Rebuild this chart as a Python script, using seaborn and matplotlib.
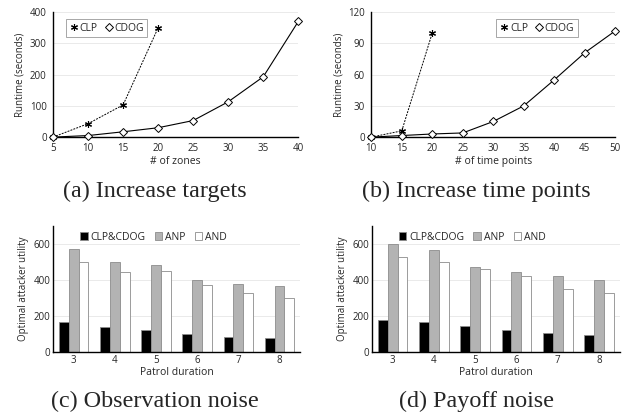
import numpy as np
import pandas as pd
import seaborn as sns
import matplotlib.pyplot as plt
from matplotlib.ticker import FixedLocator

# (a) 目標数を増やす
zones = [5, 10, 15, 20, 25, 30, 35, 40]
clp_zones = [0, 43, 103, 350]
cdog_zones = [0, 5, 17, 30, 53, 113, 193, 370]

# (b) 時点数を増やす
time_points = [10, 15, 20, 25, 30, 35, 40, 45, 50]
clp_time = [0, 6, 100]
cdog_time = [0, 1.5, 3, 4, 15, 30, 55, 81, 102]

# (c)(d) 巡回時間ごとの攻撃者効用
durations = ['3', '4', '5', '6', '7', '8']
methods = ['CLP&CDOG', 'ANP', 'AND']
obs_clp = [165, 138, 120, 98, 85, 75]
obs_anp = [575, 502, 482, 400, 378, 367]
obs_and = [500, 445, 450, 375, 328, 300]
pay_clp = [178, 165, 147, 120, 105, 97]
pay_anp = [600, 565, 475, 447, 420, 402]
pay_and = [530, 502, 460, 420, 352, 330]

captions = ['(a) Increase targets', '(b) Increase time points',
            '(c) Observation noise', '(d) Payoff noise']

sns.set_style('white')
plt.rcParams['font.family'] = ['Open Sans', 'DejaVu Sans']

fig = plt.figure(figsize=(6.24, 4.18), dpi=100)


def style_axes(ax):
    for s in ['top', 'right']:
        ax.spines[s].set_visible(False)
    for s in ['left', 'bottom']:
        ax.spines[s].set_color('black')
        ax.spines[s].set_linewidth(1.0)
    ax.yaxis.grid(True, color='#e6e6e6', linewidth=0.6)
    ax.set_axisbelow(True)
    ax.tick_params(labelsize=7, length=2.5, width=0.6, pad=2)


def line_panel(rect, xs, clp, cdog, xlabel, ylim, yticks, legend_xy):
    ax = fig.add_axes(rect)
    style_axes(ax)
    df_clp = pd.DataFrame({'x': xs[:len(clp)], 'y': clp})
    df_cdog = pd.DataFrame({'x': xs, 'y': cdog})
    sns.lineplot(data=df_clp, x='x', y='y', ax=ax, color='black', linewidth=0.7,
                 linestyle=(0, (2, 1.2)), marker=(6, 2, 0), markersize=5,
                 markeredgewidth=0.8, markeredgecolor='black', label='CLP',
                 clip_on=False, zorder=3)
    sns.lineplot(data=df_cdog, x='x', y='y', ax=ax, color='black', linewidth=0.8,
                 marker='D', markersize=4, markerfacecolor='white',
                 markeredgecolor='black', markeredgewidth=0.7, label='CDOG',
                 clip_on=False, zorder=3)
    ax.set_xlim(xs[0], xs[-1])
    ax.set_xticks(xs)
    ax.set_ylim(*ylim)
    ax.set_yticks(yticks)
    ax.set_xlabel(xlabel, fontsize=7.5, labelpad=1)
    ax.set_ylabel('Runtime (seconds)', fontsize=7, labelpad=3)
    leg = ax.legend(loc='upper left', bbox_to_anchor=legend_xy, ncol=2, fontsize=7.5,
                    fancybox=False, handlelength=0.9, handletextpad=0.1,
                    columnspacing=0.6, borderpad=0.35, framealpha=1)
    leg.get_frame().set_edgecolor('#999999')
    leg.get_frame().set_linewidth(0.6)
    for h in leg.get_lines():
        h.set_linestyle('None')
    return ax


def bar_panel(rect, clp, anp, andv):
    ax = fig.add_axes(rect)
    style_axes(ax)
    df = pd.DataFrame({
        'duration': durations * 3,
        'method': [m for m in methods for _ in durations],
        'value': clp + anp + andv,
    })
    sns.barplot(data=df, x='duration', y='value', hue='method', ax=ax,
                palette=['black', '#b3b3b3', 'white'], width=0.72,
                edgecolor='#8c8c8c', linewidth=0.6, saturation=1)
    ax.set_xlim(-0.5, 5.5)
    ax.set_ylim(0, 700)
    ax.set_yticks([0, 200, 400, 600])
    ax.tick_params(axis='x', length=0)
    ax.xaxis.set_minor_locator(FixedLocator(np.arange(0.5, 5, 1.0)))
    ax.tick_params(axis='x', which='minor', length=3, width=0.6, color='#888888')
    ax.tick_params(axis='y', length=0)
    ax.set_xlabel('Patrol duration', fontsize=7.5, labelpad=1)
    ax.set_ylabel('Optimal attacker utility', fontsize=7, labelpad=3)
    ax.legend(loc='upper left', bbox_to_anchor=(0.07, 1.03), ncol=3, fontsize=7.5,
              frameon=False, handlelength=0.75, handleheight=0.75,
              handletextpad=0.25, columnspacing=0.9)
    return ax


line_panel([0.085, 0.672, 0.393, 0.299], zones, clp_zones, cdog_zones,
           '# of zones', (0, 400), [0, 100, 200, 300, 400], (0.03, 0.985))
line_panel([0.595, 0.672, 0.391, 0.299], time_points, clp_time, cdog_time,
           '# of time points', (0, 120), [0, 30, 60, 90, 120], (0.49, 0.985))
bar_panel([0.085, 0.158, 0.396, 0.301], obs_clp, obs_anp, obs_and)
bar_panel([0.596, 0.158, 0.397, 0.301], pay_clp, pay_anp, pay_and)

for (x, y), cap in zip([(0.248, 0.543), (0.763, 0.543), (0.248, 0.039), (0.763, 0.039)], captions):
    fig.text(x, y, cap, ha='center', va='center', fontsize=17.4,
             family=['Liberation Serif', 'DejaVu Serif'])

fig.savefig('out.png', dpi=100)
